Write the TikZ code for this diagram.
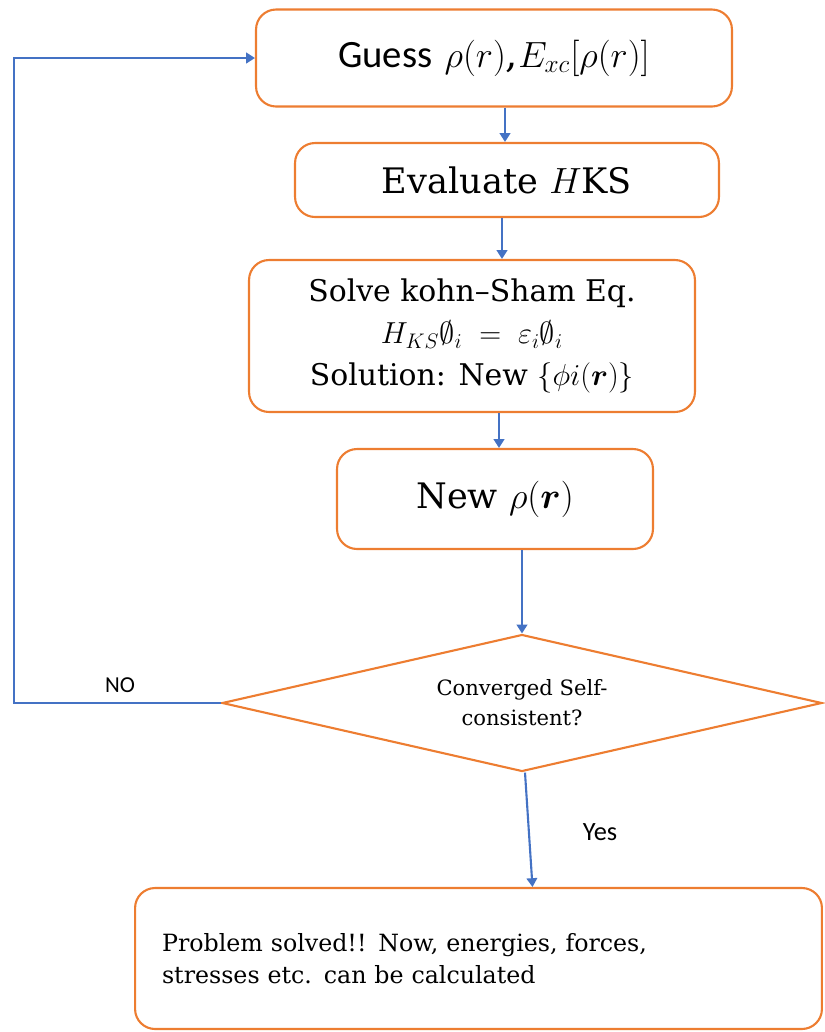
\documentclass[tikz,border=0pt]{standalone}
\usepackage{amsmath,amssymb,bm}
\usepackage{fontspec}
\setmainfont{DejaVu Serif}
\newfontfamily\calibri{Carlito}
\usetikzlibrary{shapes.geometric, arrows.meta, positioning}

\definecolor{boxorange}{RGB}{237,125,49}
\definecolor{flowblue}{RGB}{68,114,196}

\begin{document}
\begin{tikzpicture}[x=0.02cm, y=-0.02cm,
		stepbox/.style={draw=boxorange, line width=1.2pt, rounded corners=0.4cm, align=center, inner sep=0pt, font=\fontsize{17}{21}\selectfont},
		flow/.style={draw=flowblue, line width=1.2pt, -{Triangle[width=6pt,length=5pt]}},
		flowlabel/.style={font=\calibri\fontsize{13}{15}\selectfont}]
			\useasboundingbox (0,0) rectangle (825,1032);
			\node[stepbox, minimum width=9.52cm, minimum height=1.94cm, font=\fontsize{22}{26}\selectfont] at (494,58) (guess) {{\calibri Guess} $\rho(r)$,$E_{xc}[\rho(r)]$};
			\node[stepbox, minimum width=8.48cm, minimum height=1.48cm, font=\fontsize{20}{24}\selectfont] at (507,180) (evaluate) {Evaluate $H$KS};
			\node[stepbox, minimum width=8.92cm, minimum height=3.04cm] at (472,336) (solve) {Solve kohn--Sham Eq.\\[3pt] {\fontsize{18}{20}\selectfont$H_{KS}\emptyset_i \;=\; \varepsilon_i\emptyset_i$}\\[3pt] Solution: New $\{\phi i(\bm{r})\}$};
			\node[stepbox, minimum width=6.32cm, minimum height=2cm, font=\fontsize{20}{24}\selectfont] at (495,499) (newrho) {New $\rho(\bm{r})$};
			\node[stepbox, diamond, aspect=4.4, rounded corners=0pt, minimum width=12cm, minimum height=2.74cm, font=\fontsize{12}{17}\selectfont] at (522,703) (converged) {Converged Self-\\consistent?};
			\node[stepbox, minimum width=13.74cm, minimum height=2.82cm, inner xsep=0.54cm, text width=12.66cm, align=left, font=\fontsize{13.5}{18}\selectfont] at (478.5,958.5) (solved) {Problem solved!! Now, energies, forces,\\ stresses etc. can be calculated};
			\coordinate (loopcorner) at (14,703);
			\node[flowlabel] at (120,685) (nolabel) {NO};
			\node[flowlabel, font=\calibri\fontsize{15}{17}\selectfont] at (600,832) (yeslabel) {Yes};

			\foreach \from/\to/\dx/\dy in {
				guess/evaluate/11/-2, evaluate/solve/-5/30, solve/newrho/27/4,
				newrho/converged/27/0, converged/solved/3/54}
				\draw[flow] ([xshift=\dx*0.02cm]\from.south) -- ([xshift=\dy*0.02cm]\to.north);
			\draw[flow] (converged.west) -- (loopcorner) |- (guess.west);
		\end{tikzpicture}
\end{document}
